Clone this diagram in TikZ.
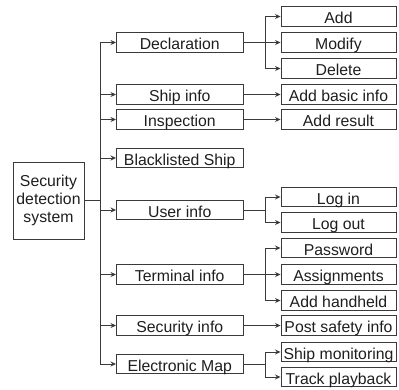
\documentclass[tikz,border=0pt]{standalone}
\usepackage{fontspec}
\setmainfont{Liberation Sans}
\usetikzlibrary{arrows.meta}
\definecolor{ln}{HTML}{3A3A3A}
\definecolor{tx}{HTML}{1E1E1E}
\tikzset{
  box/.style={draw=ln, line width=0.95pt, inner sep=0pt, text=tx,
    font=\fontsize{15.8pt}{18pt}\selectfont, text height=14.5pt, text depth=0.5pt},
  midbox/.style={box, minimum width=126.5pt, minimum height=19.5pt},
  leafbox/.style={box, minimum width=115pt, minimum height=19.5pt},
  conn/.style={draw=ln, line width=0.95pt},
  arr/.style={conn, -{Stealth[length=5.5pt,width=5pt]}}
}
\begin{document}
\begin{tikzpicture}[x=1pt,y=-1pt]
\useasboundingbox (0,0) rectangle (399,389);
% root
\node[box, minimum width=71pt, minimum height=77pt, align=center, text height=, text depth=] (root) at (48.5,200.5) {Security\\detection\\system};
% middle
\node[midbox] (decl)  at (179.75,42.5) {Declaration};
\node[midbox] (ship)  at (179.75,94.5) {Ship info};
\node[midbox] (insp)  at (179.75,119.5) {Inspection};
\node[midbox] (black) at (179.75,158) {Blacklisted Ship};
\node[midbox] (user)  at (179.75,210) {User info};
\node[midbox] (term)  at (179.75,274.5) {Terminal info};
\node[midbox] (sec)   at (179.75,325.5) {Security info};
\node[midbox] (emap)  at (179.75,364) {Electronic Map};
% leaves
\node[leafbox] (add)     at (338.5,16.5) {Add};
\node[leafbox] (modify)  at (338.5,42.5) {Modify};
\node[leafbox] (delete)  at (338.5,68.5) {Delete};
\node[leafbox] (addbasic) at (338.5,94.5) {Add basic info};
\node[leafbox] (addres)  at (338.5,119.5) {Add result};
\node[leafbox] (login)   at (338.5,197) {Log in};
\node[leafbox] (logout)  at (338.5,222.5) {Log out};
\node[leafbox] (pass)    at (338.5,248) {Password};
\node[leafbox] (assign)  at (338.5,274.5) {Assignments};
\node[leafbox] (hand)    at (338.5,300.5) {Add handheld};
\node[leafbox] (post)    at (338.5,325.5) {Post safety info};
\node[leafbox] (shipmon) at (338.5,352) {Ship monitoring};
\node[leafbox] (track)   at (338.5,377) {Track playback};
% trunk and branch x
\coordinate (tr) at (100,0);
\coordinate (br) at (265,0);
\draw[conn] (root.east) -- (root.east -| tr);
\draw[conn] (decl.west -| tr) -- (emap.west -| tr);
\foreach \n in {decl,ship,insp,black,user,term,sec,emap}
  \draw[arr] (\n.west -| tr) -- (\n.west);
% declaration
\draw[conn] (decl.east) -- (decl.east -| br);
\draw[conn] (add.west -| br) -- (delete.west -| br);
\foreach \n in {add,modify,delete} \draw[arr] (\n.west -| br) -- (\n.west);
% direct
\draw[arr] (ship.east) -- (addbasic.west);
\draw[arr] (insp.east) -- (addres.west);
\draw[arr] (sec.east) -- (post.west);
% user
\draw[conn] (user.east) -- (user.east -| br);
\draw[conn] (login.west -| br) -- (logout.west -| br);
\foreach \n in {login,logout} \draw[arr] (\n.west -| br) -- (\n.west);
% terminal
\draw[conn] (term.east) -- (term.east -| br);
\draw[conn] (pass.west -| br) -- (hand.west -| br);
\foreach \n in {pass,assign,hand} \draw[arr] (\n.west -| br) -- (\n.west);
% emap
\draw[conn] (emap.east) -- (emap.east -| br);
\draw[conn] (shipmon.west -| br) -- (track.west -| br);
\foreach \n in {shipmon,track} \draw[arr] (\n.west -| br) -- (\n.west);
\end{tikzpicture}
\end{document}
